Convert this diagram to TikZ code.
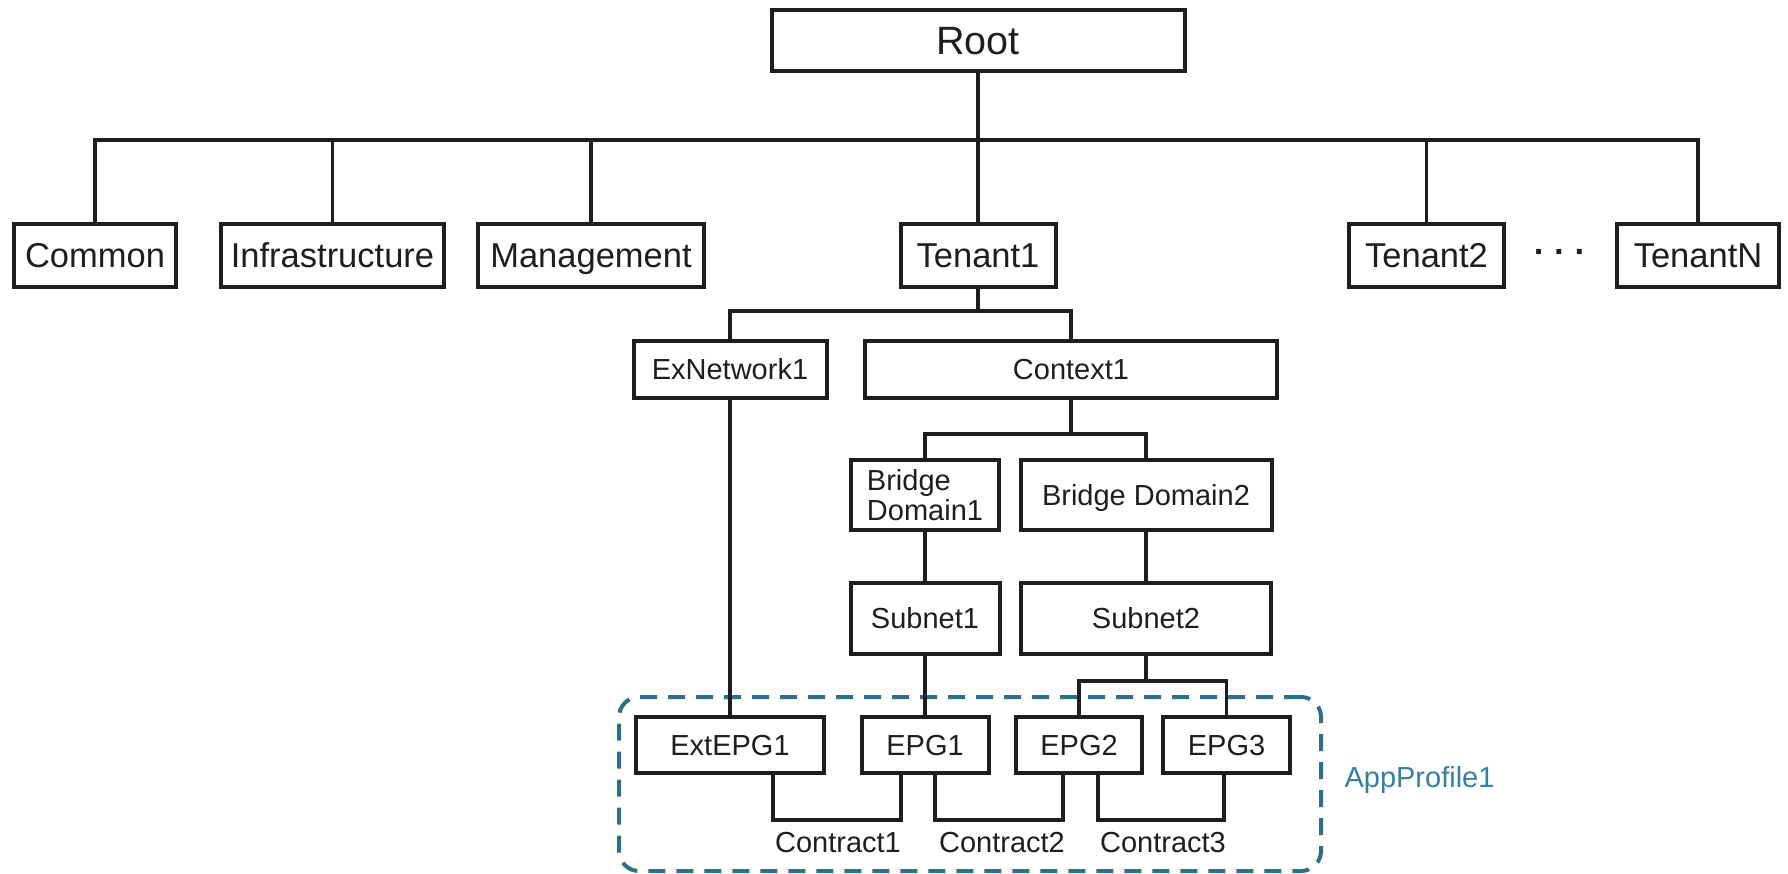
\documentclass[tikz,border=0pt]{standalone}
\usepackage{fontspec}
\setmainfont{Liberation Sans}
\usetikzlibrary{calc}
\definecolor{ink}{RGB}{30,30,30}
\definecolor{appline}{RGB}{45,110,140}
\definecolor{apptext}{RGB}{55,125,165}
\begin{document}
\begin{tikzpicture}[x=1pt,y=-1pt,
  frame/.style={draw=ink, line width=4pt, inner sep=0pt, text=ink,
              font=\fontsize{29}{30}\selectfont},
  box/.style={frame, text height=26.6pt, text depth=5.8pt},
  topbox/.style={frame, font=\fontsize{34.5}{40}\selectfont, minimum height=63pt,
                 text height=31.6pt, text depth=6.9pt},
  rootbox/.style={frame, font=\fontsize{39.5}{44}\selectfont,
                  text height=36.2pt, text depth=7.9pt},
  link/.style={draw=ink, line width=3.5pt},
  appbox/.style={draw=appline, line width=4pt, dash pattern=on 17pt off 11pt,
                 rounded corners=20pt, inner sep=0pt},
  applabel/.style={text=apptext, font=\fontsize{29}{30}\selectfont},
  contract/.style={text=ink, font=\fontsize{29}{30}\selectfont}]
\useasboundingbox (0,0) rectangle (1788,874);

% application profile frame (behind everything else)
\node[appbox, minimum width=702pt, minimum height=174pt] (app) at (970,784) {};
\node[applabel, anchor=west] (applbl) at (1341,780) {AppProfile1};

% root and first level
\node[rootbox, minimum width=413pt, minimum height=61pt] (root) at (978,40.5) {Root};
\node[topbox, minimum width=162pt] (common) at (95,255.5) {Common};
\node[topbox, minimum width=223pt] (infra) at (332.5,255.5) {Infrastructure};
\node[topbox, minimum width=226pt] (mgmt) at (591,255.5) {Management};
\node[topbox, minimum width=155pt] (tenant1) at (978,255.5) {Tenant1};
\node[topbox, minimum width=155pt] (tenant2) at (1426.5,255.5) {Tenant2};
\node[topbox, minimum width=162pt] (tenantN) at (1698,255.5) {TenantN};
\node[text=ink, font=\fontsize{34.5}{40}\selectfont\bfseries] (dots) at (1560,256)
  {·\hspace{9pt}·\hspace{9pt}·};

% tenant contents
\node[box, minimum width=193pt, minimum height=57pt] (exnet) at (730,369.5) {ExNetwork1};
\node[box, minimum width=412pt, minimum height=57pt] (context) at (1071,369.5) {Context1};
\node[frame, minimum width=148pt, minimum height=70pt, align=left] (bd1) at (925,495) {Bridge\\Domain1};
\node[box, minimum width=251pt, minimum height=70pt] (bd2) at (1146,495) {Bridge Domain2};
\node[box, minimum width=149pt, minimum height=71pt] (sub1) at (925,618.5) {Subnet1};
\node[box, minimum width=250pt, minimum height=71pt] (sub2) at (1146,618.5) {Subnet2};

% endpoint groups
\node[box, minimum width=188pt, minimum height=56pt] (extepg) at (730,745) {ExtEPG1};
\node[box, minimum width=127pt, minimum height=56pt] (epg1) at (925,745) {EPG1};
\node[box, minimum width=126pt, minimum height=56pt] (epg2) at (1079,745) {EPG2};
\node[box, minimum width=127pt, minimum height=56pt] (epg3) at (1226.5,745) {EPG3};

% root bus
\coordinate (bus1) at (978,140);
\draw[link] (common.north) |- (bus1) -| (tenantN.north);
\draw[link] (root.south) -- (tenant1.north);
\foreach \n in {infra,mgmt,tenant2}
  \draw[link] (\n.north) -- (\n.north |- bus1);

% tenant bus
\coordinate (bus2) at (978,311);
\draw[link] (tenant1.south) -- (bus2);
\draw[link] (exnet.north) |- (bus2) -| (context.north);
\draw[link] (exnet.south) -- (extepg.north);

% context bus
\coordinate (bus3) at (1071,434);
\draw[link] (context.south) -- (bus3);
\draw[link] (bd1.north) |- (bus3) -| (bd2.north);
\draw[link] (bd1.south) -- (sub1.north);
\draw[link] (bd2.south) -- (sub2.north);
\draw[link] (sub1.south) -- (epg1.north);

% subnet2 bus
\coordinate (bus4) at (1146,681);
\draw[link] (sub2.south) -- (bus4);
\draw[link] (epg2.north) |- (bus4) -| (epg3.north);

% contracts between endpoint groups
\draw[link] ([xshift=43pt]extepg.south) -- ++(0,45) -| ([xshift=-24pt]epg1.south);
\draw[link] ([xshift=10pt]epg1.south) -- ++(0,45) -| ([xshift=-16pt]epg2.south);
\draw[link] ([xshift=19pt]epg2.south) -- ++(0,45) -| ([xshift=-2.5pt]epg3.south);
\node[contract] (c1) at (838,843) {Contract1};
\node[contract] (c2) at (1002,843) {Contract2};
\node[contract] (c3) at (1163,843) {Contract3};
\end{tikzpicture}
\end{document}
